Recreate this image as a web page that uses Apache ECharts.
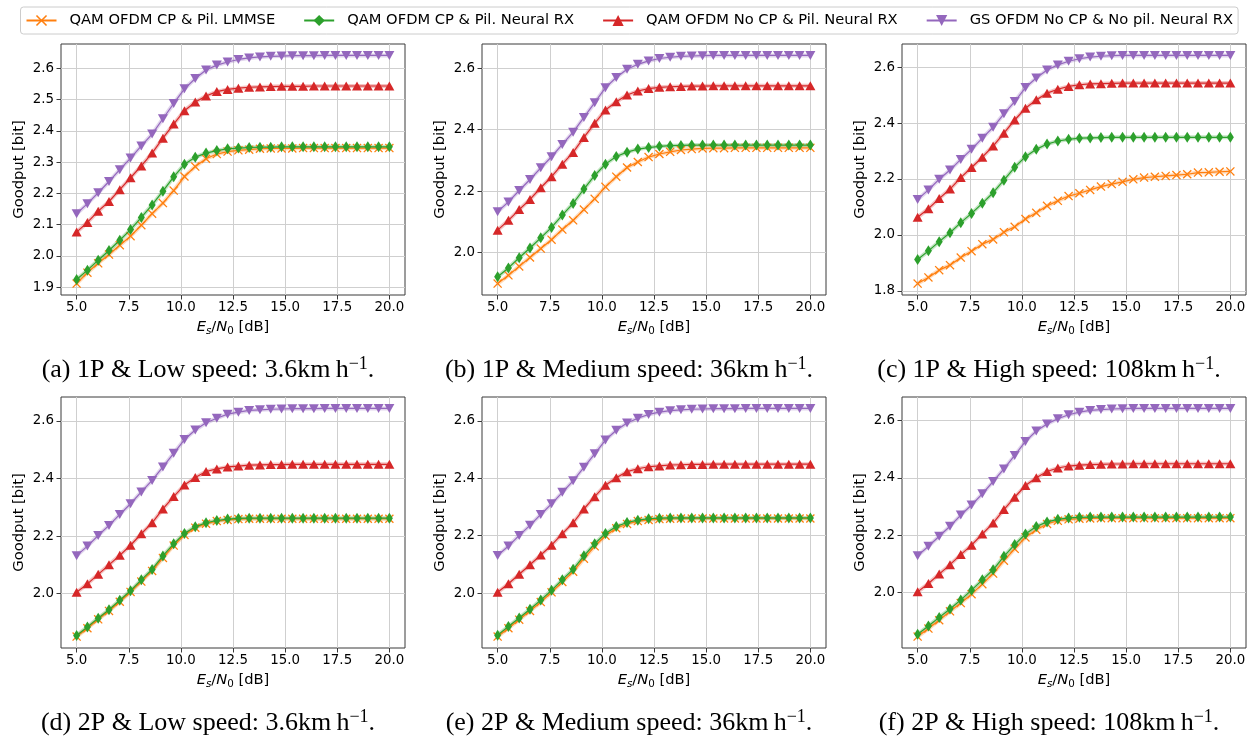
<!DOCTYPE html>
<html>
<head>
<meta charset="utf-8">
<script src="https://cdn.jsdelivr.net/npm/echarts@6/dist/echarts.min.js"></script>
<style>
html,body{margin:0;padding:0;background:#fff;}
#chart{width:1255px;height:740px;}
</style>
</head>
<body>
<div id="chart"></div>
<script>
// ---------- data ----------
const snrDb = [5.000,5.517,6.034,6.552,7.069,7.586,8.103,8.621,9.138,9.655,10.172,10.690,11.207,11.724,12.241,12.759,13.276,13.793,14.310,14.828,15.345,15.862,16.379,16.897,17.414,17.931,18.448,18.966,19.483,20.000];
const xTicks = [5, 7.5, 10, 12.5, 15, 17.5, 20];
const seriesNames = ['QAM OFDM CP & Pil. LMMSE', 'QAM OFDM CP & Pil. Neural RX', 'QAM OFDM No CP & Pil. Neural RX', 'GS OFDM No CP & No pil. Neural RX'];

// (a) 1P low speed
const aLmmse = [1.911,1.946,1.976,2.004,2.034,2.063,2.098,2.135,2.169,2.209,2.254,2.286,2.311,2.326,2.334,2.338,2.340,2.343,2.344,2.344,2.344,2.345,2.345,2.345,2.345,2.345,2.345,2.345,2.345,2.345];
const aCp    = [1.924,1.954,1.986,2.017,2.050,2.084,2.123,2.163,2.207,2.253,2.293,2.316,2.329,2.337,2.343,2.345,2.347,2.348,2.348,2.349,2.349,2.349,2.349,2.349,2.349,2.349,2.349,2.349,2.349,2.349];
const aNoCp  = [2.076,2.107,2.143,2.174,2.212,2.250,2.288,2.329,2.377,2.422,2.465,2.493,2.512,2.526,2.533,2.537,2.540,2.541,2.542,2.543,2.543,2.543,2.544,2.544,2.544,2.544,2.544,2.544,2.544,2.544];
const aGs    = [2.135,2.167,2.202,2.238,2.276,2.313,2.352,2.390,2.439,2.488,2.535,2.568,2.595,2.611,2.621,2.629,2.634,2.637,2.639,2.640,2.641,2.641,2.641,2.642,2.642,2.642,2.642,2.642,2.642,2.642];
const aTicks = [1.9, 2.0, 2.1, 2.2, 2.3, 2.4, 2.5, 2.6];

// (b) 1P medium speed
const bLmmse = [1.899,1.926,1.955,1.984,2.013,2.042,2.075,2.105,2.140,2.175,2.214,2.247,2.277,2.295,2.311,2.321,2.328,2.334,2.337,2.339,2.340,2.340,2.341,2.341,2.341,2.341,2.341,2.341,2.341,2.341];
const bCp    = [1.921,1.950,1.983,2.015,2.048,2.082,2.122,2.160,2.207,2.251,2.288,2.313,2.327,2.337,2.342,2.346,2.348,2.349,2.350,2.350,2.350,2.350,2.350,2.350,2.350,2.350,2.350,2.350,2.350,2.350];
const bNoCp  = [2.073,2.105,2.140,2.173,2.211,2.247,2.288,2.326,2.375,2.421,2.464,2.491,2.513,2.526,2.534,2.538,2.540,2.541,2.542,2.542,2.543,2.543,2.543,2.543,2.543,2.543,2.543,2.543,2.543,2.543];
const bGs    = [2.133,2.165,2.202,2.238,2.276,2.312,2.352,2.392,2.440,2.488,2.537,2.570,2.597,2.613,2.624,2.632,2.636,2.639,2.640,2.641,2.642,2.642,2.642,2.642,2.642,2.642,2.642,2.642,2.642,2.642];
const bTicks = [2.0, 2.2, 2.4, 2.6];

// (c) 1P high speed
const cLmmse = [1.826,1.848,1.874,1.892,1.919,1.942,1.967,1.984,2.010,2.029,2.057,2.079,2.104,2.122,2.139,2.149,2.161,2.173,2.182,2.190,2.199,2.205,2.208,2.211,2.214,2.217,2.223,2.224,2.226,2.227];
const cCp    = [1.912,1.943,1.976,2.008,2.044,2.077,2.113,2.151,2.196,2.242,2.280,2.306,2.325,2.336,2.342,2.346,2.347,2.348,2.349,2.349,2.349,2.349,2.349,2.349,2.349,2.349,2.349,2.349,2.349,2.349];
const cNoCp  = [2.063,2.094,2.130,2.164,2.205,2.241,2.278,2.318,2.364,2.411,2.453,2.483,2.507,2.521,2.531,2.537,2.540,2.541,2.542,2.543,2.543,2.543,2.543,2.543,2.543,2.543,2.543,2.543,2.543,2.543];
const cGs    = [2.127,2.161,2.199,2.232,2.270,2.306,2.346,2.385,2.433,2.477,2.527,2.561,2.590,2.608,2.621,2.630,2.636,2.639,2.641,2.642,2.642,2.642,2.642,2.642,2.642,2.642,2.642,2.642,2.642,2.642];
const cTicks = [1.8, 2.0, 2.2, 2.4, 2.6];

// (d) 2P low speed
const dLmmse = [1.851,1.880,1.911,1.940,1.972,2.006,2.042,2.079,2.124,2.167,2.204,2.229,2.243,2.252,2.256,2.259,2.260,2.260,2.260,2.260,2.260,2.260,2.260,2.260,2.260,2.260,2.260,2.260,2.260,2.260];
const dCp    = [1.855,1.884,1.915,1.944,1.977,2.010,2.048,2.084,2.131,2.173,2.209,2.232,2.246,2.254,2.259,2.261,2.262,2.262,2.262,2.262,2.262,2.262,2.262,2.262,2.262,2.262,2.262,2.262,2.262,2.262];
const dNoCp  = [2.005,2.034,2.067,2.100,2.133,2.168,2.208,2.246,2.294,2.337,2.377,2.403,2.424,2.433,2.440,2.443,2.446,2.447,2.448,2.448,2.449,2.449,2.449,2.449,2.449,2.449,2.449,2.449,2.449,2.449];
const dGs    = [2.132,2.165,2.202,2.237,2.275,2.312,2.353,2.393,2.440,2.487,2.535,2.568,2.593,2.609,2.623,2.630,2.636,2.638,2.640,2.641,2.642,2.642,2.642,2.643,2.643,2.643,2.643,2.643,2.643,2.643];
const dTicks = [2.0, 2.2, 2.4, 2.6];

// (e) 2P medium speed
const eLmmse = [1.849,1.878,1.908,1.938,1.969,2.003,2.039,2.075,2.120,2.163,2.200,2.226,2.241,2.251,2.255,2.258,2.259,2.260,2.260,2.260,2.260,2.260,2.260,2.260,2.260,2.260,2.260,2.260,2.260,2.260];
const eCp    = [1.854,1.884,1.914,1.944,1.976,2.010,2.047,2.083,2.130,2.172,2.208,2.232,2.246,2.254,2.259,2.261,2.262,2.262,2.262,2.262,2.262,2.262,2.262,2.262,2.262,2.262,2.262,2.262,2.262,2.262];
const eNoCp  = [2.003,2.033,2.066,2.099,2.133,2.167,2.207,2.245,2.293,2.336,2.376,2.402,2.423,2.433,2.440,2.443,2.446,2.447,2.448,2.448,2.449,2.449,2.449,2.449,2.449,2.449,2.449,2.449,2.449,2.449];
const eGs    = [2.131,2.164,2.201,2.236,2.274,2.311,2.351,2.391,2.438,2.485,2.533,2.567,2.592,2.609,2.622,2.630,2.635,2.638,2.640,2.641,2.642,2.642,2.642,2.643,2.643,2.643,2.643,2.643,2.643,2.643];
const eTicks = [2.0, 2.2, 2.4, 2.6];

// (f) 2P high speed
const fLmmse = [1.846,1.874,1.903,1.934,1.963,1.994,2.029,2.066,2.111,2.152,2.192,2.219,2.239,2.250,2.255,2.257,2.258,2.259,2.259,2.259,2.259,2.259,2.259,2.259,2.259,2.259,2.259,2.259,2.259,2.259];
const fCp    = [1.854,1.883,1.913,1.942,1.974,2.008,2.044,2.079,2.126,2.167,2.204,2.230,2.246,2.255,2.260,2.262,2.263,2.263,2.263,2.263,2.263,2.263,2.263,2.263,2.263,2.263,2.263,2.263,2.263,2.263];
const fNoCp  = [2.002,2.031,2.064,2.097,2.132,2.165,2.204,2.242,2.289,2.332,2.373,2.400,2.422,2.434,2.441,2.444,2.446,2.447,2.448,2.448,2.449,2.449,2.449,2.449,2.449,2.449,2.449,2.449,2.449,2.449];
const fGs    = [2.128,2.161,2.196,2.231,2.270,2.305,2.344,2.387,2.431,2.478,2.527,2.563,2.588,2.606,2.620,2.629,2.635,2.638,2.640,2.641,2.642,2.642,2.642,2.642,2.642,2.642,2.642,2.642,2.642,2.642];
const fTicks = [2.0, 2.2, 2.4, 2.6];

const captions = [
  ['(a) 1P & Low speed: 3.6km\u2009h', '.'],
  ['(b) 1P & Medium speed: 36km\u2009h', '.'],
  ['(c) 1P & High speed: 108km\u2009h', '.'],
  ['(d) 2P & Low speed: 3.6km\u2009h', '.'],
  ['(e) 2P & Medium speed: 36km\u2009h', '.'],
  ['(f) 2P & High speed: 108km\u2009h', '.']
];

// ---------- build ----------
const panels = [
  {series:[aLmmse,aCp,aNoCp,aGs], ticks:aTicks},
  {series:[bLmmse,bCp,bNoCp,bGs], ticks:bTicks},
  {series:[cLmmse,cCp,cNoCp,cGs], ticks:cTicks},
  {series:[dLmmse,dCp,dNoCp,dGs], ticks:dTicks},
  {series:[eLmmse,eCp,eNoCp,eGs], ticks:eTicks},
  {series:[fLmmse,fCp,fNoCp,fGs], ticks:fTicks}
];
const colors = ['#ff7f0e', '#2ca02c', '#d62728', '#9467bd'];
const symbols = [
  'path://M0,1L1,0L5,4L9,0L10,1L6,5L10,9L9,10L5,6L1,10L0,9L4,5Z',
  'path://M5,0L10,8L5,16L0,8Z',
  'triangle',
  'path://M0,0L10,0L5,10Z'
];
const symbolSizes = [[9,9],[7,11],[10,9],[10,9]];

const colLeft = [61, 482, 902];
const rowTop = [44, 397];
const gridW = 344, gridH = 251;
const FONT = 'DejaVu Sans';

const grids = [], xAxes = [], yAxes = [], series = [], graphics = [];
panels.forEach((p, k) => {
  const r = Math.floor(k / 3), c = k % 3;
  grids.push({left: colLeft[c], top: rowTop[r], width: gridW, height: gridH,
    show: true, borderColor: '#3a3a3a', borderWidth: 1, backgroundColor: 'transparent',
    containLabel: false, outerBoundsMode: 'none'});
  let lo = Infinity, hi = -Infinity;
  p.series.forEach(s => s.forEach(v => { lo = Math.min(lo, v); hi = Math.max(hi, v); }));
  const pad = (hi - lo) * 0.05;
  xAxes.push({type: 'value', gridIndex: k, min: 4.25, max: 20.75,
    axisLine: {show: false},
    axisTick: {show: true, length: 4.5, lineStyle: {color: '#3a3a3a', width: 1}, customValues: xTicks},
    axisLabel: {show: true, margin: 6, color: '#000', fontFamily: FONT, fontSize: 13.4,
      customValues: xTicks, formatter: v => Number(v).toFixed(1)},
    splitLine: {show: true, lineStyle: {color: '#cfcfcf', width: 1}},
    name: '{i|E}{si|s}/{i|N}{s|0} [dB]', nameLocation: 'middle', nameGap: 23,
    nameTextStyle: {color: '#000', fontFamily: FONT, fontSize: 14.7, lineHeight: 18,
      rich: {
        i: {fontStyle: 'italic', fontFamily: FONT, fontSize: 14.7, lineHeight: 18, color: '#000'},
        si: {fontStyle: 'italic', fontFamily: FONT, fontSize: 10.3, lineHeight: 10, verticalAlign: 'bottom', color: '#000'},
        s: {fontFamily: FONT, fontSize: 10.3, lineHeight: 10, verticalAlign: 'bottom', color: '#000'}
      }}
  });
  yAxes.push({type: 'value', gridIndex: k, min: lo - pad, max: hi + pad,
    axisLine: {show: false},
    axisTick: {show: true, length: 4.5, lineStyle: {color: '#3a3a3a', width: 1}, customValues: p.ticks},
    axisLabel: {show: true, margin: 7, color: '#000', fontFamily: FONT, fontSize: 13.4,
      customValues: p.ticks, formatter: v => Number(v).toFixed(1)},
    splitLine: {show: true, lineStyle: {color: '#cfcfcf', width: 1}},
    name: 'Goodput [bit]', nameLocation: 'middle', nameRotate: 90, nameGap: 34,
    nameTextStyle: {color: '#000', fontFamily: FONT, fontSize: 14.7}
  });
  p.series.forEach((vals, j) => {
    const pts = snrDb.map((x, i) => [x, vals[i]]);
    series.push({type: 'line', name: '_band' + j, xAxisIndex: k, yAxisIndex: k, data: pts,
      symbol: 'none', silent: true, z: 1, animation: false,
      lineStyle: {color: colors[j], width: 4, opacity: 0.28}});
  });
  p.series.forEach((vals, j) => {
    const pts = snrDb.map((x, i) => [x, vals[i]]);
    series.push({type: 'line', name: seriesNames[j], xAxisIndex: k, yAxisIndex: k, data: pts,
      symbol: symbols[j], symbolSize: symbolSizes[j], symbolKeepAspect: false, showSymbol: true, z: 2 + j,
      animation: false,
      lineStyle: {color: colors[j], width: 1.2},
      itemStyle: {color: colors[j], borderWidth: 0}});
  });
  const capX = colLeft[c] + gridW / 2 - 25;
  const capY = r === 0 ? 370 : 723;
  graphics.push({type: 'text', x: capX, y: capY, silent: true,
    style: {text: '{t|' + captions[k][0] + '}{sup|\u22121}{t|' + captions[k][1] + '}',
      align: 'center', verticalAlign: 'middle', fill: '#000',
      fontFamily: 'Liberation Serif', fontSize: 26,
      rich: {
        t: {fontFamily: 'Liberation Serif', fontSize: 26, lineHeight: 30, fill: '#000'},
        sup: {fontFamily: 'Liberation Serif', fontSize: 18, lineHeight: 20, verticalAlign: 'top', fill: '#000'}
      }}});
});

const chart = echarts.init(document.getElementById('chart'), null, {renderer: 'canvas'});
chart.setOption({
  backgroundColor: '#fff',
  animation: false,
  color: colors,
  grid: grids,
  xAxis: xAxes,
  yAxis: yAxes,
  series: series,
  legend: {
    data: seriesNames, show: true, orient: 'horizontal', left: 20.5, top: 7,
    padding: [6, 5, 6, 5], itemGap: 28, itemWidth: 30, itemHeight: 14,
    backgroundColor: '#fff', borderColor: '#cccccc', borderWidth: 1, borderRadius: 3,
    selectedMode: false,
    textStyle: {color: '#000', fontFamily: FONT, fontSize: 14.7, padding: [0, 0, 0, 8]}
  },
  graphic: graphics
});
</script>
</body>
</html>
